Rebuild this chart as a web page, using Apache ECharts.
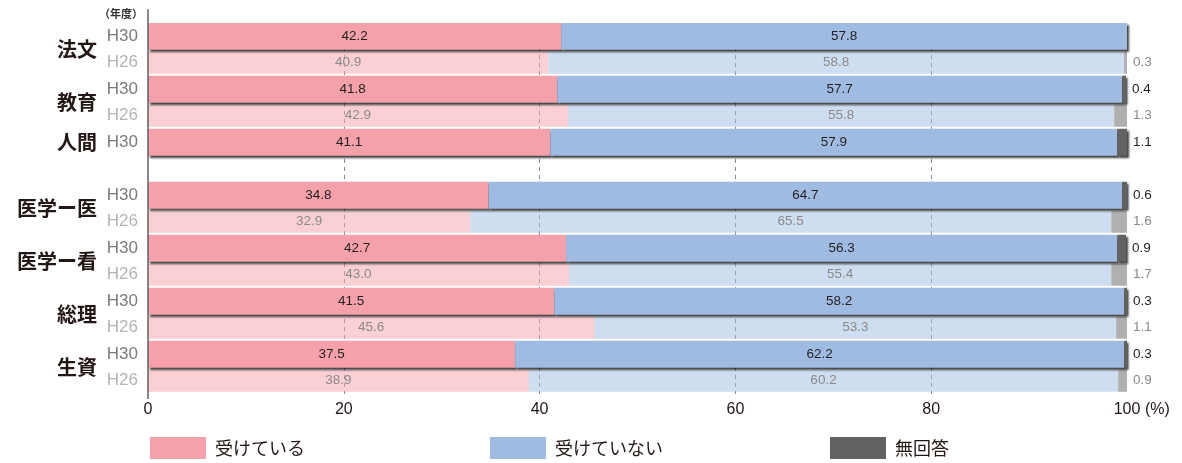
<!DOCTYPE html>
<html>
<head>
<meta charset="utf-8">
<style>
  html, body { margin: 0; padding: 0; background: #ffffff; }
  #chart { width: 1182px; height: 463px; }
</style>
<script src="https://cdn.jsdelivr.net/npm/echarts@6/dist/echarts.min.js"></script>
</head>
<body>
<div id="chart"></div>
<script>
// ---- data ----
const categories = ['法文', '教育', '人間', '医学ー医', '医学ー看', '総理', '生資'];
const years = ['H30', 'H26'];
const seriesNames = ['受けている', '受けていない', '無回答'];
const recvH30 = [42.2, 41.8, 41.1, 34.8, 42.7, 41.5, 37.5];
const notH30  = [57.8, 57.7, 57.9, 64.7, 56.3, 58.2, 62.2];
const naH30   = [null, 0.4, 1.1, 0.6, 0.9, 0.3, 0.3];
const recvH26 = [40.9, 42.9, null, 32.9, 43.0, 45.6, 38.9];
const notH26  = [58.8, 55.8, null, 65.5, 55.4, 53.3, 60.2];
const naH26   = [0.3, 1.3, null, 1.6, 1.7, 1.1, 0.9];
const xTicks  = [0, 20, 40, 60, 80, 100];
const yearHeader = '（年度）';
const unitLabel = '(%)';

// ---- build rows ----
const rows = [];
categories.forEach(c => years.forEach(y => rows.push(c + '|' + y)));

function rowData(arr, yearIdx) {
  const out = [];
  categories.forEach((c, i) => {
    years.forEach((y, j) => {
      out.push(j === yearIdx && arr[i] != null ? arr[i] : '-');
    });
  });
  return out;
}

const colors = ['#f5a1ac', '#9fbbe1', '#626262'];
const lightColors = ['rgba(245,161,172,0.5)', 'rgba(159,187,225,0.5)', 'rgba(98,98,98,0.5)'];
const sans = 'Liberation Sans, Arial, sans-serif';
const jp = 'Noto Sans CJK JP, sans-serif';

const chart = echarts.init(document.getElementById('chart'), null, { renderer: 'canvas' });

const series = [];
// H26 (lighter, drawn first)
[recvH26, notH26, naH26].forEach((arr, k) => {
  series.push({
    name: seriesNames[k] + '(H26)',
    type: 'bar',
    stack: 'h26',
    yAxisIndex: 1,
    barWidth: 22,
    z: 2,
    data: rowData(arr, 1),
    itemStyle: { color: lightColors[k] },
    label: {
      show: true,
      position: k === 2 ? 'right' : 'inside',
      distance: 6,
      color: '#8a8a8a',
      fontSize: 13.5,
      fontFamily: sans,
      formatter: p => Number(p.value).toFixed(1)
    },
    emphasis: { disabled: true }
  });
});
// H30
[recvH30, notH30, naH30].forEach((arr, k) => {
  series.push({
    name: seriesNames[k],
    type: 'bar',
    stack: 'h30',
    yAxisIndex: 0,
    barWidth: 27,
    z: 3,
    data: rowData(arr, 0),
    itemStyle: {
      color: colors[k],
      shadowColor: 'rgba(0,0,0,0.75)',
      shadowBlur: 2,
      shadowOffsetX: 1.5,
      shadowOffsetY: 2
    },
    label: {
      show: true,
      position: k === 2 ? 'right' : 'inside',
      distance: 6,
      color: '#231f20',
      fontSize: 13.5,
      fontFamily: sans,
      formatter: p => Number(p.value).toFixed(1)
    },
    emphasis: { disabled: true }
  });
});

const legendBase = {
  top: 432,
  itemWidth: 56,
  itemHeight: 22,
  icon: 'rect',
  selectedMode: false,
  itemStyle: { shadowBlur: 0, shadowOffsetX: 0, shadowOffsetY: 0, shadowColor: 'rgba(0,0,0,0)' },
  textStyle: { fontSize: 18, color: '#231815', fontFamily: jp, padding: [0, 0, 0, 4] }
};

const option = {
  animation: false,
  backgroundColor: '#ffffff',
  grid: { left: 148, right: 55, top: 23, height: 371 },
  legend: [
    Object.assign({}, legendBase, { left: 145, data: [seriesNames[0]] }),
    Object.assign({}, legendBase, { left: 485, data: [seriesNames[1]] }),
    Object.assign({}, legendBase, { left: 825, data: [seriesNames[2]] })
  ],
  xAxis: {
    type: 'value',
    min: xTicks[0],
    max: xTicks[xTicks.length - 1],
    interval: 20,
    axisLine: { show: false },
    axisTick: { show: false },
    axisLabel: { fontSize: 16, color: '#231815', fontFamily: sans, margin: 8 },
    splitLine: {
      show: true,
      lineStyle: {
        type: [4, 4],
        width: 1,
        color: ['rgba(0,0,0,0)', '#8a8a8a', '#8a8a8a', '#8a8a8a', '#8a8a8a', 'rgba(0,0,0,0)']
      }
    }
  },
  yAxis: [
    {
      type: 'category',
      data: rows,
      inverse: true,
      axisLine: { show: false },
      axisTick: { show: false },
      axisLabel: {
        margin: 10,
        fontSize: 17,
        fontFamily: sans,
        formatter: (v) => {
          const [c, y] = v.split('|');
          const ci = categories.indexOf(c);
          if (y === 'H26' && recvH26[ci] == null) return '';
          return y === 'H30' ? '{a|' + y + '}' : '{b|' + y + '}';
        },
        rich: {
          a: { color: '#7b7b7b', fontSize: 17, fontFamily: sans },
          b: { color: '#b4b4b4', fontSize: 17, fontFamily: sans }
        }
      }
    },
    {
      type: 'category',
      data: rows,
      inverse: true,
      show: false
    }
  ],
  series: series
};

chart.setOption(option);

// ---- decorations positioned from the chart's own scales ----
const x0 = chart.convertToPixel({ xAxisIndex: 0 }, 0);
const x100 = chart.convertToPixel({ xAxisIndex: 0 }, 100);
const yFirst = chart.convertToPixel({ yAxisIndex: 0 }, rows[0]);
const rect = chart.getModel().getComponent('grid', 0).coordinateSystem.getRect();
const gridBottom = rect.y + rect.height;

const graphics = [];
categories.forEach((c, i) => {
  const y30 = chart.convertToPixel({ yAxisIndex: 0 }, c + '|H30');
  const y26 = chart.convertToPixel({ yAxisIndex: 0 }, c + '|H26');
  const yc = recvH26[i] != null ? (y30 + y26) / 2 : y30;
  graphics.push({
    type: 'text',
    x: x0 - 51,
    y: yc,
    style: {
      text: c,
      align: 'right',
      verticalAlign: 'middle',
      fontSize: 20,
      fontWeight: 'bold',
      fontFamily: jp,
      fill: '#231815'
    }
  });
});
graphics.push({
  type: 'text',
  x: x0 - 5,
  y: yFirst - 22,
  style: {
    text: yearHeader,
    align: 'right',
    verticalAlign: 'middle',
    fontSize: 11,
    fontWeight: 'bold',
    fontFamily: jp,
    fill: '#333333'
  }
});
graphics.push({
  type: 'line',
  shape: { x1: x0, y1: yFirst - 27, x2: x0, y2: gridBottom + 5 },
  style: { stroke: '#5f5f5f', lineWidth: 1.5 },
  z: 10
});
graphics.push({
  type: 'text',
  x: x100 + 18,
  y: gridBottom + 16,
  style: {
    text: unitLabel,
    align: 'left',
    verticalAlign: 'middle',
    fontSize: 16,
    fontFamily: sans,
    fill: '#231815'
  }
});
chart.setOption({ graphic: graphics });
</script>
</body>
</html>
